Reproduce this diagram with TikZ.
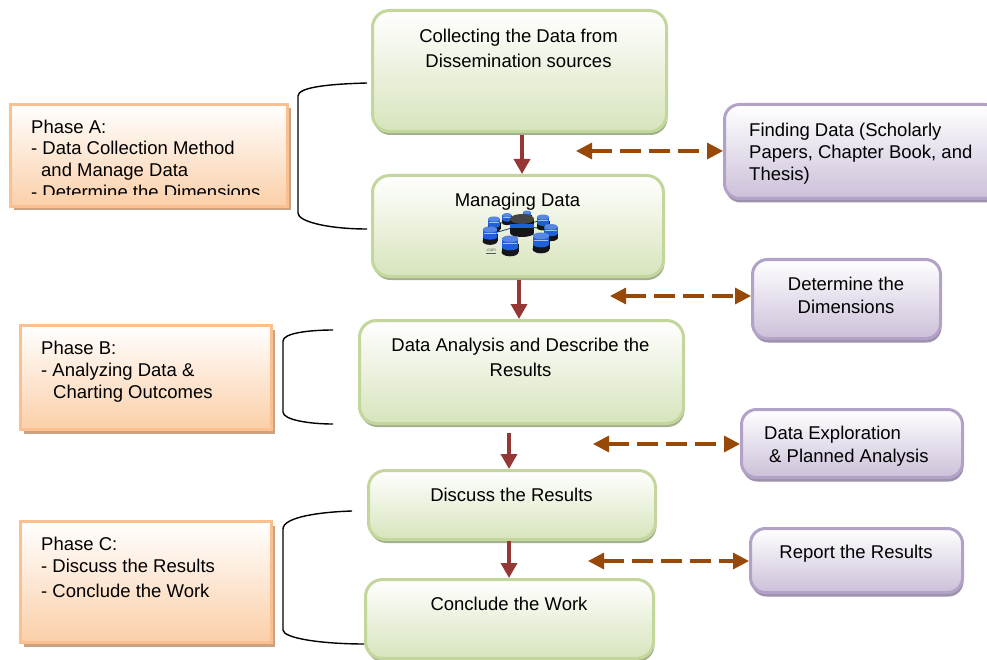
\documentclass[tikz,border=0pt]{standalone}
\usepackage{fontspec}
\setmainfont{Liberation Sans}
\usetikzlibrary{shadows,arrows.meta,calc}
\definecolor{gb}{HTML}{C3D69B}\definecolor{gf}{HTML}{D7E4BC}\definecolor{gs}{HTML}{A3B08F}
\definecolor{ob}{HTML}{FAC090}\definecolor{of}{HTML}{FBCFA8}\definecolor{os}{HTML}{CBA383}
\definecolor{pb}{HTML}{B3A2C7}\definecolor{pf}{HTML}{CCC0D9}\definecolor{ps}{HTML}{9C90AA}
\definecolor{redarrow}{HTML}{953735}\definecolor{brownarrow}{HTML}{984807}
\definecolor{dbblue}{HTML}{1F5FD8}\definecolor{dbdark}{HTML}{16161A}
\tikzset{
  x=1pt,y=-1pt,
  base box/.style={minimum width=#1,inner sep=0pt,line width=3pt,anchor=north west},
  greenbox/.style={rounded corners=17pt,draw=gb,top color=white,middle color=gf!80!white,bottom color=gf,
    drop shadow={shadow xshift=1pt,shadow yshift=-3.5pt,opacity=1,fill=gs}},
  orangebox/.style={draw=ob,top color=white,middle color=of!75!white,bottom color=of,
    drop shadow={shadow xshift=3pt,shadow yshift=-4pt,opacity=1,fill=os}},
  purplebox/.style={rounded corners=15pt,draw=pb,top color=white,middle color=pf!70!white,bottom color=pf,
    drop shadow={shadow xshift=1pt,shadow yshift=-4pt,opacity=1,fill=ps}},
  txt/.style={inner sep=0pt,font=\fontsize{18.5}{25}\selectfont,text=black},
  ltxt/.style={txt,anchor=north west,align=left,font=\fontsize{18.5}{#1}\selectfont},
  ctxt/.style={txt,anchor=north,align=center},
  flow/.style={draw=redarrow,line width=3.4pt,-{Triangle[length=15pt,width=16pt]}},
  link/.style={draw=brownarrow,line width=3.2pt,dash pattern=on 21pt off 8pt,
    {Triangle[length=16pt,width=16pt]}-{Triangle[length=16pt,width=16pt]}},
  brace/.style={draw=black,line width=1.4pt},
  dbline/.style={draw=dbblue!60!black,line width=.8pt},
}
\newcommand{\boxat}[6]{\node[base box=#4-#2,#1,minimum height=#5-#3] (#6) at (#2-1,#3-1) {};}
\newcommand{\dbcyl}[3]{% x y r
  \fill[dbdark] (#1-#3,#2) rectangle (#1+#3,#2+#3*.95);
  \fill[dbdark] (#1,#2+#3*.95) ellipse [x radius=#3,y radius=#3*.5];
  \fill[dbblue] (#1-#3+.3,#2-#3*.6) rectangle (#1+#3-.3,#2+#3*.35);
  \fill[dbblue] (#1,#2+#3*.35) ellipse [x radius=#3-.3,y radius=#3*.4];
  \fill[dbblue!75!white] (#1,#2-#3*.6) ellipse [x radius=#3-.3,y radius=#3*.4];
  \draw[dbblue!40!white,line width=.5pt] (#1-#3+1.2,#2-#3*.05) -- (#1+#3-1.2,#2-#3*.05);
}
\begin{document}
\begin{tikzpicture}
\useasboundingbox (0,0) rectangle (987,660);
\fill[white] (0,0) rectangle (987,660);
% braces
\coordinate (bA1) at (367,83);\coordinate (bA2) at (367,229);
\coordinate (bB1) at (333,330);\coordinate (bB2) at (333,424);
\coordinate (bC1) at (352,511);\coordinate (bC2) at (365,644);
\draw[brace] (bA1) .. controls (330,84) and (298,87) .. (298,96) -- (298,213) .. controls (298,222) and (330,229) .. (bA2);
\draw[brace] (bB1) .. controls (310,330) and (283,333) .. (283,341) -- (283,412) .. controls (283,420) and (310,424) .. (bB2);
\draw[brace] (bC1) .. controls (320,512) and (283,517) .. (283,529) -- (283,630) .. controls (283,638) and (320,644) .. (bC2);
% green boxes
\boxat{greenbox}{372}{10}{666}{131}{g1}
\boxat{greenbox}{372}{175}{663}{276}{g2}
\boxat{greenbox}{359}{320}{683}{423}{g3}
\boxat{greenbox}{368}{470}{655}{539}{g4}
\boxat{greenbox}{365}{579}{653}{658}{g5}
% orange boxes
\boxat{orangebox}{10}{104}{287}{206}{oa}
\boxat{orangebox}{20}{325}{271}{429}{ob}
\boxat{orangebox}{20}{521}{271}{642}{oc}
% purple boxes
\boxat{purplebox}{724}{104}{1000}{198}{p1}
\boxat{purplebox}{752}{259}{940}{338}{p2}
\boxat{purplebox}{741}{409}{962}{477}{p3}
\boxat{purplebox}{750}{528}{962}{592}{p4}
% texts
\node[ctxt] (t1) at (518.5,29) {Collecting the Data from\\Dissemination sources};
\node[ctxt] (t2) at (517.5,193) {Managing Data};
\node[ctxt] (t3) at (520.5,338) {Data Analysis and Describe the\\Results};
\node[ctxt] (t4) at (511.5,487.5) {Discuss the Results};
\node[ctxt] (t5) at (509,596.5) {Conclude the Work};
\begin{scope}
\clip (10,104) rectangle (287,195);
\node[ltxt=21.7] (ta) at (31,119.5) {Phase A:\\- Data Collection Method\\\hspace{10pt}and Manage Data\\- Determine the Dimensions};
\end{scope}
\node[ltxt=21.7] (tb) at (41,341) {Phase B:\\- Analyzing Data \&\\\hspace{12pt}Charting Outcomes};
\node[ltxt=21.5] (tc) at (41,537) {Phase C:\\- Discuss the Results\\[3.5pt]- Conclude the Work};
\node[ltxt=21.7] (tp1) at (749,123) {Finding Data (Scholarly\\Papers, Chapter Book, and\\Thesis)};
\node[ctxt,font=\fontsize{18.5}{23}\selectfont] (tp2) at (846,277) {Determine the\\Dimensions};
\node[ltxt=23] (tp3) at (764,426) {Data Exploration\\\hspace{5pt}\& Planned Analysis};
\node[ctxt] (tp4) at (856,544.5) {Report the Results};
% database icon
\draw[dbline] (522,225) -- (494,222) (522,225) -- (507,217) (522,225) -- (527,214) (522,225) -- (543,220) (522,225) -- (551,231) (522,225) -- (541,242) (522,225) -- (510,244) (522,225) -- (491,234);
\dbcyl{494}{223}{6.5}\dbcyl{507}{218}{5}\dbcyl{527}{215}{4.5}\dbcyl{543}{221}{6.5}\dbcyl{551}{231}{7}
\dbcyl{541}{241}{8.5}\dbcyl{510}{244}{8.5}\dbcyl{490}{234}{7.5}
\fill[dbdark] (510,219) rectangle (534,233);
\fill[dbdark] (522,233) ellipse [x radius=12,y radius=4];
\fill[dbblue] (510,224) rectangle (534,228.5);
\fill[dbdark!80!white] (522,219) ellipse [x radius=12,y radius=5];
\node[inner sep=0pt,text=black!65,font=\fontsize{4.5}{5}\selectfont] (com) at (491,251.5) {\underline{.com}};
% connectors
\coordinate (x1) at (522,0);\coordinate (x2) at (519,0);\coordinate (x3) at (509,0);
\draw[flow] (x1 |- g1.south) ++(0,2) -- (x1 |- g2.north);
\draw[flow] (x2 |- g2.south) ++(0,2) -- (x2 |- g3.north);
\draw[flow] (x3 |- g3.south) ++(0,8) -- (x3 |- g4.north);
\draw[flow] (x3 |- g4.south) -- (x3 |- g5.north);
\coordinate (l1) at (576,151);\coordinate (l2) at (610,296);\coordinate (l3) at (593,444);\coordinate (l4) at (588,561);
\draw[link] (l1) -- (l1 -| p1.west);
\draw[link] (l2) -- (l2 -| p2.west);
\draw[link] (l3) -- (l3 -| p3.west);
\draw[link] (l4) -- (l4 -| p4.west);
\end{tikzpicture}
\end{document}
